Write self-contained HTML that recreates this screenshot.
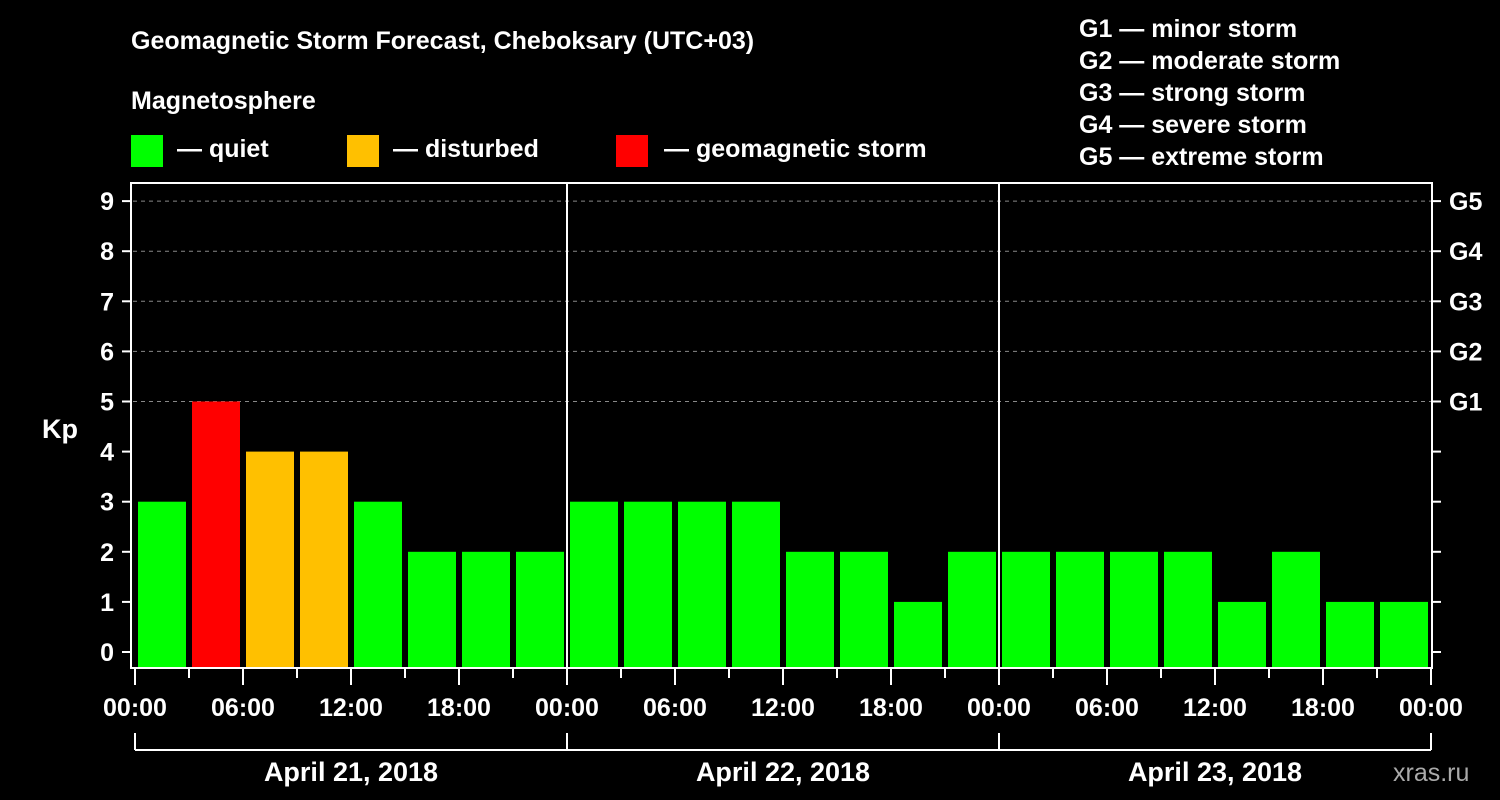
<!DOCTYPE html>
<html><head><meta charset="utf-8"><style>
body{margin:0;background:#000;}
svg{display:block;font-family:"Liberation Sans",Arial,sans-serif;font-weight:bold;}
</style></head><body>
<svg id="chart" width="1500" height="800" viewBox="0 0 1500 800" xmlns="http://www.w3.org/2000/svg">
<rect width="1500" height="800" fill="#000"/>
<text x="131" y="49" fill="#fff" font-size="25">Geomagnetic Storm Forecast, Cheboksary (UTC+03)</text>
<text x="131" y="109" fill="#fff" font-size="25">Magnetosphere</text>
<g>
<rect x="131" y="135" width="32" height="32" fill="#00ff00"/>
<text x="177" y="157" fill="#fff" font-size="25">— quiet</text>
<rect x="347" y="135" width="32" height="32" fill="#ffc000"/>
<text x="393" y="157" fill="#fff" font-size="25">— disturbed</text>
<rect x="616" y="135" width="32" height="32" fill="#ff0000"/>
<text x="664" y="157" fill="#fff" font-size="25">— geomagnetic storm</text>
</g>
<g fill="#fff" font-size="25">
<text x="1079" y="37">G1 — minor storm</text>
<text x="1079" y="69">G2 — moderate storm</text>
<text x="1079" y="101">G3 — strong storm</text>
<text x="1079" y="133">G4 — severe storm</text>
<text x="1079" y="165">G5 — extreme storm</text>
</g>
<text x="42" y="438" fill="#fff" font-size="27">Kp</text>
<text x="1393" y="781" fill="#aaa" font-size="25" font-weight="normal">xras.ru</text>
<g id="grid"></g><g id="bars"></g><g id="axes"></g>
</svg>
<script>
const kpValues=[3,5,4,4,3,2,2,2, 3,3,3,3,2,2,1,2, 2,2,2,2,1,2,1,1];
const yTicks=[0,1,2,3,4,5,6,7,8,9];
const gLabels=["G1","G2","G3","G4","G5"];
const gLevels=[5,6,7,8,9];
const xTickLabels=["00:00","06:00","12:00","18:00","00:00","06:00","12:00","18:00","00:00","06:00","12:00","18:00","00:00"];
const dayLabels=["April 21, 2018","April 22, 2018","April 23, 2018"];

const NS="http://www.w3.org/2000/svg";
const X0=135,SLOT=54,Y0=652,UNIT=50.1,TOP=183,BOT=668,RIGHT=1432;
const x=i=>X0+i*SLOT;
const y=v=>Y0-v*UNIT;
function mk(parent,tag,attrs){const e=document.createElementNS(NS,tag);for(const k in attrs)e.setAttribute(k,attrs[k]);document.getElementById(parent).appendChild(e);return e;}
function color(v){return v>=5?"#ff0000":v>=4?"#ffc000":"#00ff00";}

gLevels.forEach(v=>{
  const l=mk("grid","line",{x1:133,x2:RIGHT,y1:y(v),y2:y(v),stroke:"#888","stroke-width":1,"stroke-dasharray":"4,4"});
  
  
});
kpValues.forEach((v,i)=>{
  const r=mk("bars","rect",{x:x(i)+3,y:y(v),width:SLOT-6,height:BOT-y(v),fill:color(v)});
  
  
});
// plot frame
const fr=mk("axes","rect",{x:131,y:TOP,width:RIGHT-131,height:BOT-TOP,fill:"none",stroke:"#fff","stroke-width":2});


[8,16].forEach(i=>{
  const l=mk("axes","line",{x1:x(i),x2:x(i),y1:TOP,y2:BOT,stroke:"#fff","stroke-width":2});
  
  
});
yTicks.forEach(v=>{
  const t=mk("axes","line",{x1:122,x2:131,y1:y(v),y2:y(v),stroke:"#fff","stroke-width":2});
  
  
  const t2=mk("axes","line",{x1:RIGHT,x2:RIGHT+9,y1:y(v),y2:y(v),stroke:"#fff","stroke-width":2});
  
  
  const tx=mk("axes","text",{x:114,y:y(v)+9,fill:"#fff","font-size":25,"text-anchor":"end"});
  tx.textContent=v;
  
  
});
gLabels.forEach((g,i)=>{
  const tx=mk("axes","text",{x:1449,y:y(gLevels[i])+9,fill:"#fff","font-size":25});
  tx.textContent=g;
  
  
});
for(let i=0;i<=24;i++){
  const major=i%2===0;
  const t=mk("axes","line",{x1:x(i),x2:x(i),y1:BOT,y2:major?685:678,stroke:"#fff","stroke-width":2});
  
  
}
xTickLabels.forEach((s,i)=>{
  const tx=mk("axes","text",{x:x(i*2),y:716,fill:"#fff","font-size":25,"text-anchor":"middle"});
  tx.textContent=s;
  
  
});
const br=mk("axes","line",{x1:x(0),x2:x(24),y1:750,y2:750,stroke:"#fff","stroke-width":2});


[0,8,16,24].forEach(i=>{
  const l=mk("axes","line",{x1:x(i),x2:x(i),y1:733,y2:750,stroke:"#fff","stroke-width":2});
  
  
});
dayLabels.forEach((d,i)=>{
  const tx=mk("axes","text",{x:x(i*8+4),y:781,fill:"#fff","font-size":27,"text-anchor":"middle"});
  tx.textContent=d;
  
  
});
</script>
</body></html>
